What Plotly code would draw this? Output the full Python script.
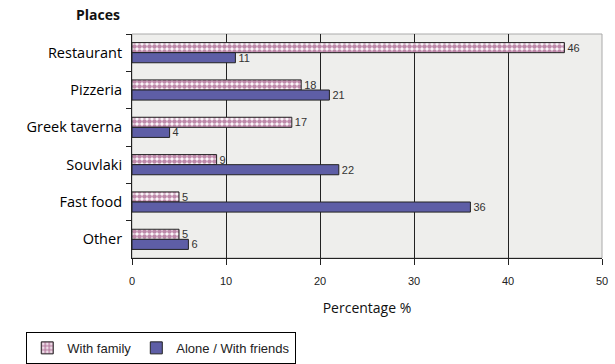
import plotly.graph_objects as go

categories = ["Restaurant", "Pizzeria", "Greek taverna", "Souvlaki", "Fast food", "Other"]
with_family = [46, 18, 17, 9, 5, 5]
alone_friends = [11, 21, 4, 22, 36, 6]
x_ticks = [0, 10, 20, 30, 40, 50]

fig = go.Figure()
fig.add_trace(go.Bar(
    y=categories, x=with_family, orientation="h", name="With family",
    marker=dict(color="white", line=dict(color="#222222", width=1),
                pattern=dict(shape=".", fgcolor="#7E1455", bgcolor="white", size=5, solidity=0.7)),
    text=[str(v) for v in with_family], textposition="outside", constraintext="none",
    textfont=dict(family="Liberation Sans", size=11, color="#333333"),
    cliponaxis=False,
))
fig.add_trace(go.Bar(
    y=categories, x=alone_friends, orientation="h", name="Alone / With friends",
    marker=dict(color="#5E5EA6", line=dict(color="#222222", width=1)),
    text=[str(v) for v in alone_friends], textposition="outside", constraintext="none",
    textfont=dict(family="Liberation Sans", size=11, color="#333333"),
    cliponaxis=False,
))

fig.update_layout(
    width=615, height=364,
    margin=dict(l=132, r=13, t=34, b=106, autoexpand=False),
    paper_bgcolor="white", plot_bgcolor="#EEEEEC",
    barmode="group", bargap=0.46, bargroupgap=0,
    showlegend=True,
    legend=dict(orientation="h", x=-0.225, y=-0.33, xanchor="left", yanchor="top",
                bordercolor="black", borderwidth=1, bgcolor="white",
                font=dict(family="Liberation Sans", size=13, color="#222"),
                itemwidth=30, tracegroupgap=0),
    font=dict(family="Liberation Sans", color="#222"),
    shapes=[dict(type="rect", xref="paper", yref="paper", x0=0, x1=1, y0=0, y1=1,
                 line=dict(color="#AAAAAA", width=1), layer="below")],
    annotations=[
        dict(text="<b>Places</b>", xref="paper", yref="paper", x=-0.021, y=1.085,
             xanchor="right", yanchor="middle", showarrow=False,
             font=dict(family="Open Sans", size=14, color="#111")),
    ],
)
fig.update_xaxes(
    range=[0, 50], tickvals=x_ticks, showgrid=True, gridcolor="#222222", gridwidth=1,
    showline=True, linecolor="#222222", linewidth=1, ticks="outside", ticklen=6,
    tickcolor="#222222", zeroline=False, ticklabelstandoff=7,
    tickfont=dict(family="Liberation Sans", size=11, color="#222"),
    title=dict(text="Percentage %", font=dict(family="Open Sans", size=14, color="#111"), standoff=16),
)
fig.update_yaxes(
    autorange="reversed", showline=True, linecolor="#222222", linewidth=1,
    ticks="outside", tickson="boundaries", ticklen=5, tickcolor="#222222",
    showgrid=False, ticklabelstandoff=6,
    tickfont=dict(family="Open Sans", size=14.5, color="#000"),
)

fig.write_html("out.html")
